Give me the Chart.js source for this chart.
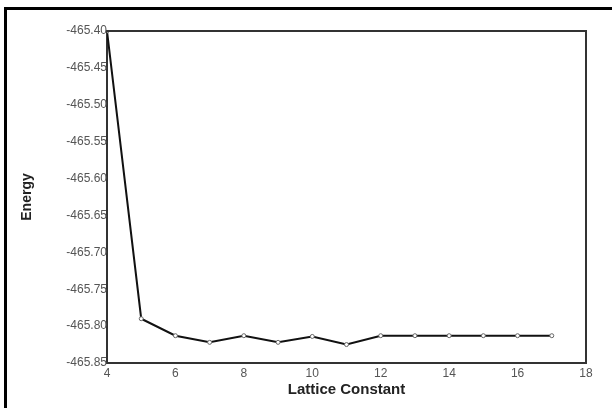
<!DOCTYPE html>
<html>
<head>
<meta charset="utf-8">
<script src="https://cdn.jsdelivr.net/npm/chart.js@4"></script>
<style>
  html, body { margin: 0; padding: 0; background: #fff; }
  #wrap { position: relative; width: 612px; height: 408px; }
  #frame { position: absolute; left: 4px; top: 7px; right: -10px; bottom: -10px;
           border-left: 3px solid #000; border-top: 3px solid #000; pointer-events: none; }
</style>
</head>
<body>
<div id="wrap">
  <canvas id="chart" width="612" height="408"></canvas>
  <div id="frame"></div>
</div>
<script>
// Lattice constant vs energy
var latticeConstant = [4, 5, 6, 7, 8, 9, 10, 11, 12, 13, 14, 15, 16, 17];
var energy = [-465.400, -465.790, -465.813, -465.822, -465.813, -465.822, -465.814,
              -465.825, -465.813, -465.813, -465.813, -465.813, -465.813, -465.813];

var xTicks = [4, 6, 8, 10, 12, 14, 16, 18];
var yTicks = [-465.40, -465.45, -465.50, -465.55, -465.60, -465.65, -465.70, -465.75, -465.80, -465.85];

var points = latticeConstant.map(function(x, i) { return { x: x, y: energy[i] }; });

// draws the top and right edges of the plot box
var boxPlugin = {
  id: 'box',
  afterDraw: function(chart) {
    var a = chart.chartArea, ctx = chart.ctx;
    ctx.save();
    ctx.strokeStyle = '#333';
    ctx.lineWidth = 2;
    ctx.beginPath();
    ctx.moveTo(a.left, a.top);
    ctx.lineTo(a.right, a.top);
    ctx.lineTo(a.right, a.bottom);
    ctx.stroke();
    ctx.restore();
  }
};

var tickFont = { family: 'Arial, "Liberation Sans", sans-serif', size: 12 };
var yTitleFont = { family: 'Arial, "Liberation Sans", sans-serif', size: 14, weight: 'bold' };
var xTitleFont = { family: 'Arial, "Liberation Sans", sans-serif', size: 15, weight: 'bold' };

new Chart(document.getElementById('chart').getContext('2d'), {
  type: 'line',
  data: {
    datasets: [{
      data: points,
      borderColor: '#111',
      borderWidth: 2,
      backgroundColor: '#fff',
      pointRadius: 2,
      pointBorderWidth: 1,
      pointBorderColor: '#666',
      pointBackgroundColor: '#fff',
      tension: 0
    }]
  },
  options: {
    responsive: false,
    animation: false,
    layout: { padding: { left: 10, right: 26, top: 31, bottom: 0 } },
    plugins: { legend: { display: false }, tooltip: { enabled: false } },
    scales: {
      x: {
        type: 'linear',
        min: 4, max: 18,
        afterBuildTicks: function(s) { s.ticks = xTicks.map(function(v) { return { value: v }; }); },
        afterFit: function(s) { s.height = 45; },
        grid: { display: false, drawTicks: false },
        border: { display: true, color: '#333', width: 2 },
        ticks: { padding: 3, color: '#555', font: tickFont, maxRotation: 0 },
        title: { display: true, text: 'Lattice Constant', color: '#222', font: xTitleFont, padding: { top: 0, bottom: 9 } }
      },
      y: {
        min: -465.85, max: -465.40,
        afterBuildTicks: function(s) { s.ticks = yTicks.map(function(v) { return { value: v }; }); },
        afterFit: function(s) { s.width = 97; },
        grid: { display: false, drawTicks: false },
        border: { display: true, color: '#333', width: 2 },
        ticks: { padding: 0, color: '#555', font: tickFont, callback: function(v) { return v.toFixed(2); } },
        title: { display: true, text: 'Energy', color: '#222', font: yTitleFont, padding: { top: 9, bottom: 0 } }
      }
    }
  },
  plugins: [boxPlugin]
});
</script>
</body>
</html>
